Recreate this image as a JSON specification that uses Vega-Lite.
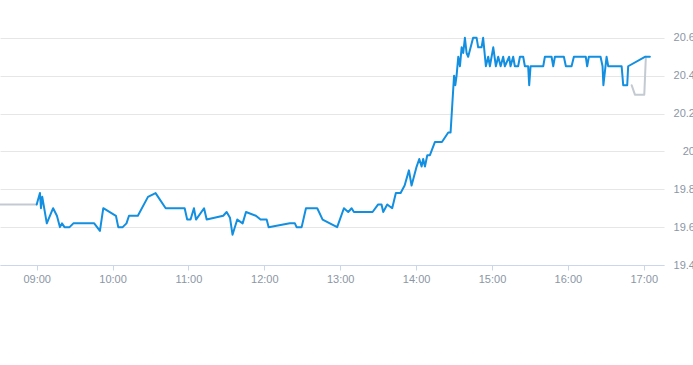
{
  "$schema": "https://vega.github.io/schema/vega-lite/v6.json",
  "width": 664,
  "height": 265,
  "autosize": {"type": "none"},
  "padding": {"left": 0, "top": 0, "right": 29, "bottom": 100},
  "background": "white",
  "config": {"view": {"stroke": null}},
  "data": {"values": [
    {"t":"2024-01-02T08:30:00Z","v":19.72,"s":"pre"},
    {"t":"2024-01-02T09:00:00Z","v":19.72,"s":"pre"},
    {"t":"2024-01-02T16:50:25Z","v":20.35,"s":"post"},
    {"t":"2024-01-02T16:53:00Z","v":20.30,"s":"post"},
    {"t":"2024-01-02T17:00:25Z","v":20.30,"s":"post"},
    {"t":"2024-01-02T17:01:40Z","v":20.50,"s":"post"},
    {"t":"2024-01-02T09:00:00Z","v":19.72,"s":"main"},
    {"t":"2024-01-02T09:02:35Z","v":19.78,"s":"main"},
    {"t":"2024-01-02T09:03:24Z","v":19.70,"s":"main"},
    {"t":"2024-01-02T09:04:25Z","v":19.76,"s":"main"},
    {"t":"2024-01-02T09:08:00Z","v":19.62,"s":"main"},
    {"t":"2024-01-02T09:13:00Z","v":19.70,"s":"main"},
    {"t":"2024-01-02T09:16:00Z","v":19.66,"s":"main"},
    {"t":"2024-01-02T09:18:25Z","v":19.60,"s":"main"},
    {"t":"2024-01-02T09:20:00Z","v":19.62,"s":"main"},
    {"t":"2024-01-02T09:22:00Z","v":19.60,"s":"main"},
    {"t":"2024-01-02T09:26:00Z","v":19.60,"s":"main"},
    {"t":"2024-01-02T09:29:00Z","v":19.62,"s":"main"},
    {"t":"2024-01-02T09:45:30Z","v":19.62,"s":"main"},
    {"t":"2024-01-02T09:50:00Z","v":19.58,"s":"main"},
    {"t":"2024-01-02T09:52:40Z","v":19.70,"s":"main"},
    {"t":"2024-01-02T10:02:40Z","v":19.66,"s":"main"},
    {"t":"2024-01-02T10:04:30Z","v":19.60,"s":"main"},
    {"t":"2024-01-02T10:08:00Z","v":19.60,"s":"main"},
    {"t":"2024-01-02T10:11:00Z","v":19.62,"s":"main"},
    {"t":"2024-01-02T10:13:00Z","v":19.66,"s":"main"},
    {"t":"2024-01-02T10:20:00Z","v":19.66,"s":"main"},
    {"t":"2024-01-02T10:28:00Z","v":19.76,"s":"main"},
    {"t":"2024-01-02T10:34:00Z","v":19.78,"s":"main"},
    {"t":"2024-01-02T10:42:00Z","v":19.70,"s":"main"},
    {"t":"2024-01-02T10:57:00Z","v":19.70,"s":"main"},
    {"t":"2024-01-02T10:59:00Z","v":19.64,"s":"main"},
    {"t":"2024-01-02T11:01:40Z","v":19.64,"s":"main"},
    {"t":"2024-01-02T11:04:20Z","v":19.70,"s":"main"},
    {"t":"2024-01-02T11:06:00Z","v":19.64,"s":"main"},
    {"t":"2024-01-02T11:12:20Z","v":19.70,"s":"main"},
    {"t":"2024-01-02T11:14:25Z","v":19.64,"s":"main"},
    {"t":"2024-01-02T11:27:30Z","v":19.66,"s":"main"},
    {"t":"2024-01-02T11:30:12Z","v":19.68,"s":"main"},
    {"t":"2024-01-02T11:32:50Z","v":19.65,"s":"main"},
    {"t":"2024-01-02T11:34:50Z","v":19.56,"s":"main"},
    {"t":"2024-01-02T11:38:35Z","v":19.64,"s":"main"},
    {"t":"2024-01-02T11:42:50Z","v":19.62,"s":"main"},
    {"t":"2024-01-02T11:45:30Z","v":19.68,"s":"main"},
    {"t":"2024-01-02T11:53:20Z","v":19.66,"s":"main"},
    {"t":"2024-01-02T11:57:00Z","v":19.64,"s":"main"},
    {"t":"2024-01-02T12:01:50Z","v":19.64,"s":"main"},
    {"t":"2024-01-02T12:03:25Z","v":19.60,"s":"main"},
    {"t":"2024-01-02T12:20:10Z","v":19.62,"s":"main"},
    {"t":"2024-01-02T12:24:10Z","v":19.62,"s":"main"},
    {"t":"2024-01-02T12:25:30Z","v":19.60,"s":"main"},
    {"t":"2024-01-02T12:29:30Z","v":19.60,"s":"main"},
    {"t":"2024-01-02T12:32:55Z","v":19.70,"s":"main"},
    {"t":"2024-01-02T12:41:50Z","v":19.70,"s":"main"},
    {"t":"2024-01-02T12:46:05Z","v":19.64,"s":"main"},
    {"t":"2024-01-02T12:57:35Z","v":19.60,"s":"main"},
    {"t":"2024-01-02T13:02:55Z","v":19.70,"s":"main"},
    {"t":"2024-01-02T13:06:20Z","v":19.68,"s":"main"},
    {"t":"2024-01-02T13:09:00Z","v":19.70,"s":"main"},
    {"t":"2024-01-02T13:10:50Z","v":19.68,"s":"main"},
    {"t":"2024-01-02T13:25:35Z","v":19.68,"s":"main"},
    {"t":"2024-01-02T13:30:00Z","v":19.72,"s":"main"},
    {"t":"2024-01-02T13:32:40Z","v":19.72,"s":"main"},
    {"t":"2024-01-02T13:34:00Z","v":19.68,"s":"main"},
    {"t":"2024-01-02T13:37:10Z","v":19.72,"s":"main"},
    {"t":"2024-01-02T13:41:05Z","v":19.70,"s":"main"},
    {"t":"2024-01-02T13:44:00Z","v":19.78,"s":"main"},
    {"t":"2024-01-02T13:47:45Z","v":19.78,"s":"main"},
    {"t":"2024-01-02T13:50:55Z","v":19.82,"s":"main"},
    {"t":"2024-01-02T13:54:20Z","v":19.90,"s":"main"},
    {"t":"2024-01-02T13:56:25Z","v":19.82,"s":"main"},
    {"t":"2024-01-02T14:00:25Z","v":19.92,"s":"main"},
    {"t":"2024-01-02T14:02:30Z","v":19.96,"s":"main"},
    {"t":"2024-01-02T14:04:20Z","v":19.92,"s":"main"},
    {"t":"2024-01-02T14:05:35Z","v":19.96,"s":"main"},
    {"t":"2024-01-02T14:07:00Z","v":19.92,"s":"main"},
    {"t":"2024-01-02T14:08:50Z","v":19.98,"s":"main"},
    {"t":"2024-01-02T14:10:55Z","v":19.98,"s":"main"},
    {"t":"2024-01-02T14:14:55Z","v":20.05,"s":"main"},
    {"t":"2024-01-02T14:20:25Z","v":20.05,"s":"main"},
    {"t":"2024-01-02T14:25:25Z","v":20.10,"s":"main"},
    {"t":"2024-01-02T14:27:15Z","v":20.10,"s":"main"},
    {"t":"2024-01-02T14:30:00Z","v":20.40,"s":"main"},
    {"t":"2024-01-02T14:31:00Z","v":20.35,"s":"main"},
    {"t":"2024-01-02T14:32:00Z","v":20.40,"s":"main"},
    {"t":"2024-01-02T14:33:20Z","v":20.50,"s":"main"},
    {"t":"2024-01-02T14:34:40Z","v":20.45,"s":"main"},
    {"t":"2024-01-02T14:36:00Z","v":20.55,"s":"main"},
    {"t":"2024-01-02T14:37:15Z","v":20.52,"s":"main"},
    {"t":"2024-01-02T14:38:35Z","v":20.60,"s":"main"},
    {"t":"2024-01-02T14:39:55Z","v":20.52,"s":"main"},
    {"t":"2024-01-02T14:41:10Z","v":20.50,"s":"main"},
    {"t":"2024-01-02T14:45:05Z","v":20.60,"s":"main"},
    {"t":"2024-01-02T14:47:50Z","v":20.60,"s":"main"},
    {"t":"2024-01-02T14:49:05Z","v":20.55,"s":"main"},
    {"t":"2024-01-02T14:51:45Z","v":20.55,"s":"main"},
    {"t":"2024-01-02T14:53:00Z","v":20.60,"s":"main"},
    {"t":"2024-01-02T14:55:10Z","v":20.45,"s":"main"},
    {"t":"2024-01-02T14:57:00Z","v":20.50,"s":"main"},
    {"t":"2024-01-02T14:58:20Z","v":20.45,"s":"main"},
    {"t":"2024-01-02T15:01:00Z","v":20.55,"s":"main"},
    {"t":"2024-01-02T15:03:05Z","v":20.45,"s":"main"},
    {"t":"2024-01-02T15:04:55Z","v":20.50,"s":"main"},
    {"t":"2024-01-02T15:06:50Z","v":20.45,"s":"main"},
    {"t":"2024-01-02T15:08:50Z","v":20.50,"s":"main"},
    {"t":"2024-01-02T15:10:10Z","v":20.45,"s":"main"},
    {"t":"2024-01-02T15:13:35Z","v":20.50,"s":"main"},
    {"t":"2024-01-02T15:14:40Z","v":20.45,"s":"main"},
    {"t":"2024-01-02T15:16:45Z","v":20.50,"s":"main"},
    {"t":"2024-01-02T15:18:05Z","v":20.45,"s":"main"},
    {"t":"2024-01-02T15:20:40Z","v":20.45,"s":"main"},
    {"t":"2024-01-02T15:22:05Z","v":20.50,"s":"main"},
    {"t":"2024-01-02T15:24:40Z","v":20.50,"s":"main"},
    {"t":"2024-01-02T15:26:00Z","v":20.45,"s":"main"},
    {"t":"2024-01-02T15:28:35Z","v":20.45,"s":"main"},
    {"t":"2024-01-02T15:29:25Z","v":20.35,"s":"main"},
    {"t":"2024-01-02T15:30:30Z","v":20.45,"s":"main"},
    {"t":"2024-01-02T15:40:30Z","v":20.45,"s":"main"},
    {"t":"2024-01-02T15:41:50Z","v":20.50,"s":"main"},
    {"t":"2024-01-02T15:47:05Z","v":20.50,"s":"main"},
    {"t":"2024-01-02T15:48:25Z","v":20.45,"s":"main"},
    {"t":"2024-01-02T15:49:45Z","v":20.50,"s":"main"},
    {"t":"2024-01-02T15:56:50Z","v":20.50,"s":"main"},
    {"t":"2024-01-02T15:58:25Z","v":20.45,"s":"main"},
    {"t":"2024-01-02T16:02:55Z","v":20.45,"s":"main"},
    {"t":"2024-01-02T16:04:45Z","v":20.50,"s":"main"},
    {"t":"2024-01-02T16:14:10Z","v":20.50,"s":"main"},
    {"t":"2024-01-02T16:15:15Z","v":20.45,"s":"main"},
    {"t":"2024-01-02T16:16:35Z","v":20.50,"s":"main"},
    {"t":"2024-01-02T16:25:50Z","v":20.50,"s":"main"},
    {"t":"2024-01-02T16:27:25Z","v":20.45,"s":"main"},
    {"t":"2024-01-02T16:28:05Z","v":20.35,"s":"main"},
    {"t":"2024-01-02T16:30:35Z","v":20.50,"s":"main"},
    {"t":"2024-01-02T16:31:55Z","v":20.45,"s":"main"},
    {"t":"2024-01-02T16:42:30Z","v":20.45,"s":"main"},
    {"t":"2024-01-02T16:43:45Z","v":20.35,"s":"main"},
    {"t":"2024-01-02T16:46:55Z","v":20.35,"s":"main"},
    {"t":"2024-01-02T16:47:40Z","v":20.45,"s":"main"},
    {"t":"2024-01-02T17:00:55Z","v":20.50,"s":"main"},
    {"t":"2024-01-02T17:04:50Z","v":20.50,"s":"main"}
  ]},
  "mark": {"type": "line", "strokeWidth": 2, "strokeJoin": "round", "strokeCap": "round", "clip": true},
  "encoding": {
    "x": {
      "field": "t", "type": "temporal",
      "scale": {"type": "utc", "domain": [1704184260000, 1704215760000]},
      "axis": {
        "title": null, "format": "%H:%M",
        "values": [1704186000000, 1704189600000, 1704193200000, 1704196800000, 1704200400000, 1704204000000, 1704207600000, 1704211200000, 1704214800000],
        "grid": false,
        "domainColor": "#ccd6eb", "tickColor": "#ccd6eb", "tickSize": 5,
        "labelColor": "#8a96a5", "labelFont": "Liberation Sans", "labelFontSize": 11,
        "labelPadding": 3, "labelFlush": false, "labelOverlap": false
      }
    },
    "y": {
      "field": "v", "type": "quantitative",
      "scale": {"domain": [19.4, 20.8], "nice": false, "zero": false},
      "axis": {
        "title": null, "orient": "right",
        "values": [19.4, 19.6, 19.8, 20, 20.2, 20.4, 20.6],
        "labelExpr": "'' + datum.value",
        "grid": true, "gridColor": "#e6e6e6",
        "domain": false, "ticks": false,
        "labelAlign": "right", "labelBaseline": "middle", "labelPadding": 30.5,
        "labelColor": "#8a96a5", "labelFont": "Liberation Sans", "labelFontSize": 11,
        "labelFlush": false, "labelOverlap": false
      }
    },
    "color": {
      "field": "s", "type": "nominal",
      "scale": {"domain": ["pre", "post", "main"], "range": ["#c3cad2", "#c3cad2", "#128fe0"]},
      "legend": null
    }
  }
}
